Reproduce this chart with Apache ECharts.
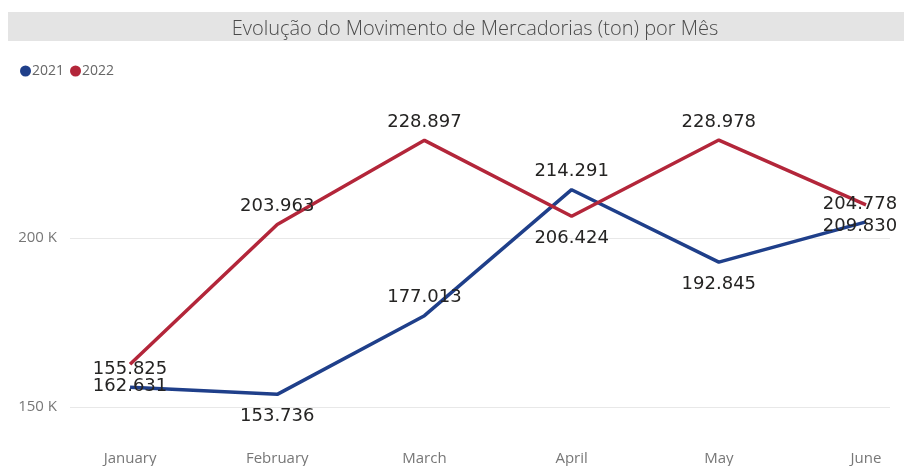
<!DOCTYPE html>
<html>
<head>
<meta charset="utf-8">
<script src="https://cdn.jsdelivr.net/npm/echarts@6/dist/echarts.min.js"></script>
<style>
  html, body { margin: 0; padding: 0; background: #fff; }
  #chart { width: 904px; height: 466px; }
</style>
</head>
<body>
<div id="chart"></div>
<script>
// meses
var months = ["January", "February", "March", "April", "May", "June"];
// toneladas por ano
var values2021 = [155825, 153736, 177013, 214291, 192845, 204778];
var values2022 = [162631, 203963, 228897, 206424, 228978, 209830];
// posicao das etiquetas (igual ao Power BI)
var labelPos2021 = ["top", "bottom", "top", "top", "bottom", "top"];
var labelPos2022 = ["bottom", "top", "top", "bottom", "top", "bottom"];
// linhas de grelha do eixo Y
var yTicks = [150000, 200000];

function fmt(v) {
  return (v / 1000).toFixed(3);
}

function buildData(values, positions) {
  return values.map(function (v, i) {
    var pos = positions[i];
    var label = { position: pos, distance: pos === "top" ? 9 : 13 };
    // ultima etiqueta fica dentro da area
    if (i === values.length - 1) label.offset = [-6, 0];
    return { value: [i, v], label: label };
  });
}

var chart = echarts.init(document.getElementById("chart"));

var labelStyle = {
  show: true,
  fontFamily: "DejaVu Sans",
  fontSize: 18,
  color: "#252423",
  formatter: function (p) { return fmt(p.value[1]); }
};

chart.setOption({
  animation: false,
  graphic: [
    {
      type: "rect",
      shape: { x: 8, y: 12, width: 896, height: 29 },
      style: { fill: "#e4e4e4" },
      silent: true
    }
  ],
  title: {
    text: "Evolução do Movimento de Mercadorias (ton) por Mês",
    left: 470,
    textAlign: "center",
    top: 14,
    textStyle: {
      fontFamily: "Open Sans",
      fontWeight: 300,
      fontSize: 20,
      color: "#4a4a4a"
    }
  },
  legend: {
    left: 15,
    top: 59,
    icon: "circle",
    itemWidth: 11,
    itemHeight: 11,
    itemGap: 6,
    textStyle: { fontFamily: "Open Sans", fontSize: 14, color: "#666", padding: [0, 0, 0, -4] },
    data: ["2021", "2022"]
  },
  grid: { left: 70, right: 14, top: 69, bottom: 59 },
  xAxis: {
    type: "value",
    min: -0.408,
    max: 5.163,
    axisLine: { show: false },
    axisTick: { show: false },
    splitLine: { show: false },
    axisLabel: {
      customValues: [0, 1, 2, 3, 4, 5],
      margin: 44,
      fontFamily: "Open Sans",
      fontSize: 15,
      color: "#777",
      formatter: function (v) { return months[Math.round(v)]; }
    }
  },
  yAxis: {
    type: "value",
    min: 150000,
    max: 250000,
    axisLine: { show: false },
    axisTick: { show: false },
    splitLine: { show: false },
    axisLabel: {
      customValues: yTicks,
      margin: 13,
      fontFamily: "Open Sans",
      fontSize: 15,
      color: "#777",
      formatter: function (v) { return v / 1000 + " K"; }
    }
  },
  series: [
    {
      name: "2021",
      type: "line",
      data: buildData(values2021, labelPos2021),
      color: "#1f3f8a",
      lineStyle: { width: 3.5, color: "#1f3f8a" },
      showSymbol: true,
      symbol: "circle",
      symbolSize: 0.01,
      label: labelStyle,
      z: 3,
      markLine: {
        silent: true,
        symbol: "none",
        label: { show: false },
        lineStyle: { color: "#e8e8e8", width: 1, type: "solid" },
        data: yTicks.map(function (t) { return { yAxis: t }; }),
        z: 1
      }
    },
    {
      name: "2022",
      type: "line",
      data: buildData(values2022, labelPos2022),
      color: "#b3263a",
      lineStyle: { width: 3.5, color: "#b3263a" },
      showSymbol: true,
      symbol: "circle",
      symbolSize: 0.01,
      label: labelStyle,
      z: 3
    }
  ]
});
</script>
</body>
</html>
